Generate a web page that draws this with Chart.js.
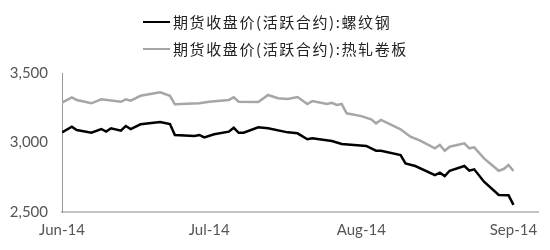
<!DOCTYPE html>
<html>
<head>
<meta charset="utf-8">
<script src="https://cdn.jsdelivr.net/npm/chart.js@4"></script>
<style>
  body { margin: 0; background: #fff; }
  #wrap { position: relative; width: 550px; height: 250px; }
  #legend { position: absolute; left: 143px; top: 8px; font-family: "Noto Sans CJK SC", sans-serif; font-size: 15px; letter-spacing: 1.6px; color: #222; }
  .item { display: flex; align-items: center; height: 27px; white-space: nowrap; }
  .swatch { display: inline-block; width: 27px; height: 2px; margin-right: 3px; }
</style>
</head>
<body>
<div id="wrap">
  <canvas id="chart"></canvas>
  <div id="legend"></div>
</div>
<script>
// days counted from 2014-06-01
const rebarDays = [0, 2, 3, 6, 8, 9, 10, 12, 13, 14, 16, 20, 22, 23, 27, 28, 29, 31, 34, 35, 36, 37, 40, 42, 46, 48,
    50, 51, 55, 57, 62, 64, 65, 69, 70, 72, 76, 77, 78, 79, 82, 83, 84, 86, 89, 91, 92];
const rebarValues = [3073, 3114, 3090, 3070, 3097, 3078, 3102, 3085, 3119, 3097, 3131, 3147, 3133, 3054, 3047, 3054, 3037, 3059, 3078, 3106, 3070, 3070, 3109, 3102, 3073, 3066,
    3023, 3030, 3011, 2989, 2975, 2941, 2941, 2910, 2850, 2831, 2766, 2783, 2759, 2797, 2831, 2797, 2807, 2718, 2622, 2620, 2551];

const hrcDays = [0, 2, 3, 6, 8, 12, 13, 14, 16, 20, 22, 23, 28, 30, 34, 35, 36, 40, 42, 44, 46, 48,
    50, 51, 54, 55, 56, 57, 58, 61, 63, 64, 65, 69, 71, 73, 76, 77, 78, 79, 82, 83, 84, 86, 89, 90, 91, 92];
const hrcValues = [3286, 3325, 3306, 3282, 3311, 3293, 3311, 3301, 3336, 3361, 3336, 3275, 3282, 3293, 3306, 3325, 3293, 3291, 3342, 3318, 3313, 3327,
    3277, 3298, 3277, 3286, 3270, 3277, 3210, 3190, 3167, 3138, 3162, 3095, 3042, 3013, 2958, 2982, 2941, 2970, 2994, 2958, 2965, 2886, 2797, 2809, 2838, 2795];

const monthTickDays = [0, 30, 61, 92];
const monthLabels = ['Jun-14', 'Jul-14', 'Aug-14', 'Sep-14'];

const seriesNames = ['期货收盘价(活跃合约):螺纹钢', '期货收盘价(活跃合约):热轧卷板'];
const seriesColors = ['#000000', '#a6a6a6'];

function toPoints(days, values) {
    return days.map((d, i) => ({ x: d, y: values[i] }));
}

let legend_div = document.getElementById('legend');
for (let i = 0; i < seriesNames.length; i++) {
    let item = document.createElement('div');
    item.className = 'item';
    let sw = document.createElement('span');
    sw.className = 'swatch';
    sw.style.background = seriesColors[i];
    let txt = document.createElement('span');
    txt.innerText = seriesNames[i];
    item.appendChild(sw);
    item.appendChild(txt);
    legend_div.appendChild(item);
}

const axisFont = { family: 'Lato', size: 15 };

new Chart(document.getElementById('chart').getContext('2d'), {
    type: 'line',
    data: {
        datasets: [
            {
                label: seriesNames[0],
                data: toPoints(rebarDays, rebarValues),
                borderColor: seriesColors[0],
                borderWidth: 2.5,
                pointRadius: 0,
                tension: 0
            },
            {
                label: seriesNames[1],
                data: toPoints(hrcDays, hrcValues),
                borderColor: seriesColors[1],
                borderWidth: 2.5,
                pointRadius: 0,
                tension: 0
            }
        ]
    },
    options: {
        responsive: true,
        maintainAspectRatio: false,
        animation: false,
        layout: { padding: { top: 73, right: 12, left: 0, bottom: 0 } },
        plugins: {
            legend: { display: false },
            tooltip: { enabled: false }
        },
        scales: {
            x: {
                type: 'linear',
                min: 0,
                max: 97,
                afterBuildTicks: (axis) => {
                    axis.ticks = monthTickDays.map(v => ({ value: v }));
                },
                afterFit: (axis) => { axis.height = 38; },
                grid: { display: false, drawTicks: false },
                border: { color: '#c4c4c4', width: 2 },
                ticks: {
                    padding: 9,
                    color: '#555',
                    font: axisFont,
                    maxRotation: 0,
                    autoSkip: false,
                    callback: (value) => monthLabels[monthTickDays.indexOf(value)]
                }
            },
            y: {
                min: 2500,
                max: 3500,
                afterFit: (axis) => { axis.width = 62; },
                grid: { display: false, drawTicks: false },
                border: { color: '#999', width: 1 },
                ticks: {
                    stepSize: 500,
                    padding: 14,
                    color: '#555',
                    font: axisFont
                }
            }
        }
    }
});
</script>
</body>
</html>
